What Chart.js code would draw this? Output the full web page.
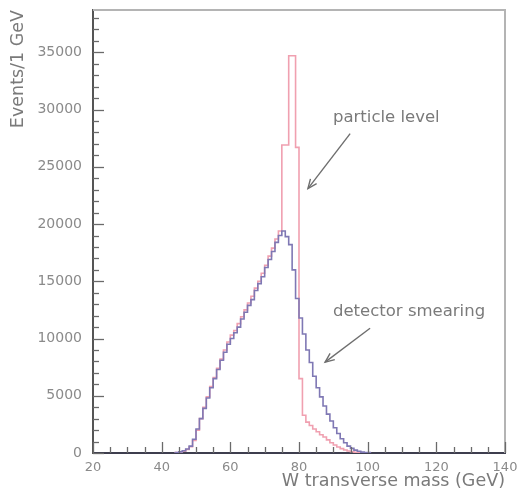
<!DOCTYPE html>
<html><head><meta charset="utf-8">
<script src="https://cdn.jsdelivr.net/npm/chart.js@4.4.1/dist/chart.umd.min.js"></script>
<style>html,body{margin:0;padding:0;background:#fff;}#wrap{width:518px;height:494px;}</style>
</head><body><div id="wrap"><canvas id="c" width="518" height="494"></canvas></div>
<script>
// W transverse mass bins (left edge, GeV; 1 GeV wide)
const massBins = [44,45,46,47,48,49,50,51,52,53,54,55,56,57,58,59,60,61,62,63,64,65,66,67,68,69,70,71,72,73,74,75,76,77,78,79,80,81,82,83,84,85,86,87,88,89,90,91,92,93,94,95,96,97,98,99,100];
// Events / 1 GeV, detector smearing
const detectorSmearing = [0,50,100,200,350,600,1200,2100,3000,3900,4800,5700,6500,7300,8100,8800,9500,10000,10500,11000,11700,12300,12900,13400,14200,14800,15400,16200,16900,17600,18400,19000,19400,18900,18200,16000,13500,11800,10400,9000,7900,6700,5700,4900,4100,3400,2800,2200,1700,1250,900,600,400,250,150,80,30];
// Events / 1 GeV, particle level
const particleLevel = [0,30,80,150,300,550,1100,2000,3000,4000,4900,5800,6600,7400,8200,9000,9700,10300,10700,11300,11900,12500,13100,13700,14400,15000,15700,16400,17200,17900,18700,19400,26900,26900,34700,34700,26700,6500,3300,2700,2400,2100,1850,1600,1400,1150,900,700,520,380,260,170,110,60,30,10,0];
const xTickLabels = [20,40,60,80,100,120,140];
const yTickLabels = [0,5000,10000,15000,20000,25000,30000,35000];
const seriesNames = ['particle level','detector smearing'];

function steps(values){
  const pts = massBins.map((m,i)=>({x:m,y:values[i]}));
  pts.push({x:massBins[massBins.length-1]+1,y:values[values.length-1]});
  return pts;
}

// annotation anchors in data units
const notes = [
  {text:seriesNames[0], tx:89.9, ty:29300, ax0:94.9, ay0:27900, ax1:82.6, ay1:23100},
  {text:seriesNames[1], tx:89.9, ty:12300, ax0:100.7, ay0:10900, ax1:87.6, ay1:7940}
];

const FONT = "'DejaVu Sans', 'Liberation Sans', sans-serif";

const framePlugin = {
  id:'frame',
  afterDatasetsDraw(chart){
    const {ctx, chartArea:a, scales:{x,y}} = chart;
    ctx.save();
    // top & right frame
    ctx.strokeStyle = '#b4b4b4'; ctx.lineWidth = 2;
    ctx.beginPath(); ctx.moveTo(a.left, a.top); ctx.lineTo(a.right, a.top); ctx.lineTo(a.right, a.bottom); ctx.stroke();
    // inner ticks
    ctx.strokeStyle = '#6a6a6a'; ctx.lineWidth = 1.3;
    for (let v = 0; v <= y.max; v += 1000){
      const p = Math.round(y.getPixelForValue(v))+0.5;
      const len = (v % 5000 === 0) ? 11 : 6;
      ctx.beginPath(); ctx.moveTo(a.left, p); ctx.lineTo(a.left+len, p); ctx.stroke();
    }
    for (let v = x.min; v <= x.max; v += 5){
      const p = Math.round(x.getPixelForValue(v))+0.5;
      const len = (v % 20 === 0) ? 11 : 6;
      ctx.beginPath(); ctx.moveTo(p, a.bottom); ctx.lineTo(p, a.bottom-len); ctx.stroke();
    }
    // annotations
    ctx.fillStyle = '#7a7a7a';
    ctx.font = "16.5px " + FONT;
    ctx.textBaseline = 'middle'; ctx.textAlign = 'left';
    notes.forEach(n=>{
      ctx.fillText(n.text, x.getPixelForValue(n.tx), y.getPixelForValue(n.ty));
      const x0 = x.getPixelForValue(n.ax0), y0 = y.getPixelForValue(n.ay0);
      const x1 = x.getPixelForValue(n.ax1), y1 = y.getPixelForValue(n.ay1);
      ctx.strokeStyle = '#6e6e6e'; ctx.lineWidth = 1.4;
      ctx.beginPath(); ctx.moveTo(x0,y0); ctx.lineTo(x1,y1); ctx.stroke();
      const ang = Math.atan2(y1-y0, x1-x0), h = 10;
      ctx.beginPath();
      ctx.moveTo(x1 - h*Math.cos(ang-0.4), y1 - h*Math.sin(ang-0.4));
      ctx.lineTo(x1,y1);
      ctx.lineTo(x1 - h*Math.cos(ang+0.4), y1 - h*Math.sin(ang+0.4));
      ctx.stroke();
    });
    ctx.restore();
  }
};

new Chart(document.getElementById('c'), {
  type:'line',
  data:{datasets:[
    {label:seriesNames[1], data:steps(detectorSmearing), stepped:'after', borderColor:'#7f78b4', borderWidth:1.6, pointRadius:0, fill:false, order:0},
    {label:seriesNames[0], data:steps(particleLevel), stepped:'after', borderColor:'#f0a0b0', borderWidth:1.6, pointRadius:0, fill:false, order:1}
  ]},
  options:{
    responsive:false, animation:false, devicePixelRatio:1,
    layout:{padding:{top:10,right:13,left:0,bottom:0}},
    plugins:{legend:{display:false}, tooltip:{enabled:false}},
    scales:{
      x:{type:'linear', min:20, max:140,
        afterBuildTicks(s){ s.ticks = xTickLabels.map(v=>({value:v})); },
        afterFit(s){ s.height = 41; s.paddingLeft = 0; s.paddingRight = 0; },
        grid:{display:true, drawOnChartArea:false, drawTicks:false},
        border:{display:true, color:'#3e3e4e', width:2},
        ticks:{padding:7, color:'#8a8a8a', font:{family:FONT, size:13}, maxRotation:0, autoSkip:false, callback:v=>String(v)},
        title:{display:true, text:'W transverse mass (GeV)', align:'end', color:'#7a7a7a', font:{family:FONT, size:17.5}, padding:{top:0,bottom:2}}
      },
      y:{type:'linear', min:0, max:38700,
        afterBuildTicks(s){ s.ticks = yTickLabels.map(v=>({value:v})); },
        afterFit(s){ s.width = 93; s.paddingTop = 0; s.paddingBottom = 0; },
        grid:{display:true, drawOnChartArea:false, drawTicks:false},
        border:{display:true, color:'#555', width:2},
        ticks:{padding:11, color:'#8a8a8a', font:{family:FONT, size:14}, autoSkip:false, callback:v=>String(v)},
        title:{display:true, text:'Events/1 GeV', align:'end', color:'#7a7a7a', font:{family:FONT, size:17.5}, padding:{top:8,bottom:0}}
      }
    }
  },
  plugins:[framePlugin]
});
</script></body></html>
